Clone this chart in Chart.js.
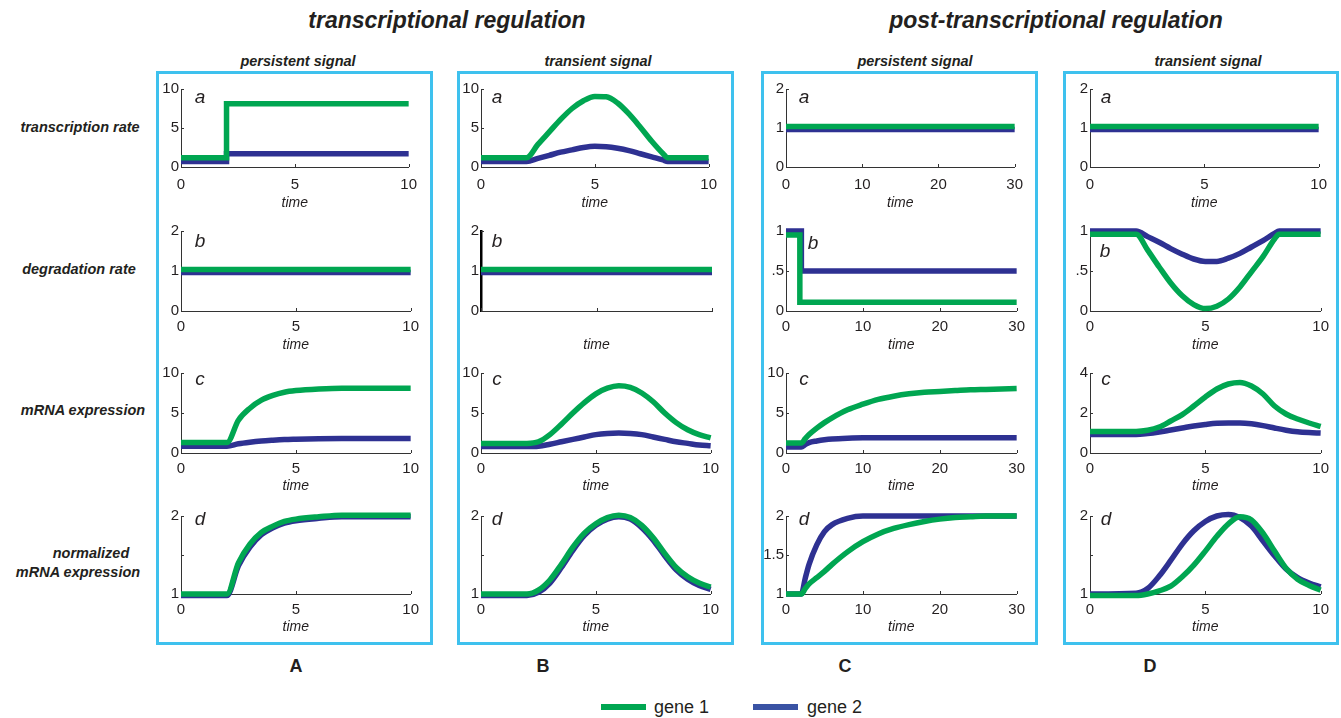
<!DOCTYPE html>
<html>
<head>
<meta charset="utf-8">
<script src="https://cdn.jsdelivr.net/npm/chart.js@4.4.1/dist/chart.umd.min.js"></script>
<style>
  body { margin: 0; background: #fff; font-family: 'Liberation Sans', Arial, sans-serif; color: #231f20; }
  #fig { position: relative; width: 1341px; height: 718px; overflow: hidden; }
  .txt { position: absolute; transform: translate(-50%, -50%); white-space: nowrap; }
  .head { font-weight: bold; font-style: italic; font-size: 23px; }
  .sub { font-weight: bold; font-style: italic; font-size: 14.5px; }
  .rowlab { font-weight: bold; font-style: italic; font-size: 14.5px; }
  .col { font-weight: bold; font-size: 18px; }
  .box { position: absolute; border: 3px solid #3ec1ee; box-sizing: border-box; }
  canvas.panel { position: absolute; }
  .key { position: absolute; height: 6px; width: 45px; }
  .keytxt { position: absolute; font-size: 18px; transform: translateY(-50%); white-space: nowrap; }
</style>
</head>
<body>
<div id="fig">
  <div class="txt head" style="left:447px; top:20px;">transcriptional regulation</div>
  <div class="txt head" style="left:1056px; top:20px;">post-transcriptional regulation</div>

  <div class="txt sub" style="left:298px; top:61px;">persistent signal</div>
  <div class="txt sub" style="left:598px; top:61px;">transient signal</div>
  <div class="txt sub" style="left:915px; top:61px;">persistent signal</div>
  <div class="txt sub" style="left:1208px; top:61px;">transient signal</div>

  <div class="txt rowlab" style="left:80px; top:127px;">transcription rate</div>
  <div class="txt rowlab" style="left:79px; top:269px;">degradation rate</div>
  <div class="txt rowlab" style="left:83px; top:410px;">mRNA expression</div>
  <div class="txt rowlab" style="left:91px; top:553px;">normalized</div>
  <div class="txt rowlab" style="left:78px; top:572px;">mRNA expression</div>

  <div class="box" style="left:156px; top:71px; width:277px; height:574px;"></div>
  <div class="box" style="left:457px; top:71px; width:277px; height:574px;"></div>
  <div class="box" style="left:761px; top:71px; width:277px; height:574px;"></div>
  <div class="box" style="left:1063px; top:71px; width:276px; height:574px;"></div>

  <div class="txt col" style="left:296px; top:666px;">A</div>
  <div class="txt col" style="left:543px; top:666px;">B</div>
  <div class="txt col" style="left:845px; top:666px;">C</div>
  <div class="txt col" style="left:1150px; top:666px;">D</div>

  <div class="key" style="left:601px; top:704px; background:#00a651;"></div>
  <div class="keytxt" style="left:654px; top:707px;">gene 1</div>
  <div class="key" style="left:753px; top:704px; background:#3a53a4;"></div>
  <div class="keytxt" style="left:807px; top:707px;">gene 2</div>
</div>

<script>
const GREEN = '#00a651';   // gene 1
const BLUE = '#2e3192';    // gene 2
const FONT = "'Liberation Sans', Arial, sans-serif";

// ---- time grids ----
const tStepA = [0, 2, 2, 10];
const tFlat10 = [0, 10];
const tFlat30 = [0, 30];
const tRiseA = [0, 2, 2.5, 3, 3.5, 4, 4.5, 5, 6, 7, 8, 10];
const tPulse = [0, 2, 2.5, 3, 3.5, 4, 4.5, 5, 5.5, 6, 6.5, 7, 7.5, 8, 8.2, 10];
const tHalf10 = [0, 2, 2.5, 3, 3.5, 4, 4.5, 5, 5.5, 6, 6.5, 7, 7.5, 8, 8.5, 9, 9.5, 10];
const tDropC1 = [0, 1.8, 1.8, 30];
const tDropC2 = [0, 2, 2, 30];
const tRiseC = [0, 2, 2.5, 3, 4, 5, 6, 8, 10, 12, 14, 16, 18, 20, 22, 24, 26, 28, 30];

// ---- A: transcriptional regulation, persistent signal ----
const A_a_gene1 = [1.2, 1.2, 8.1, 8.1];
const A_a_gene2 = [0.7, 0.7, 1.7, 1.7];
const A_b_gene1 = [1.04, 1.04];
const A_b_gene2 = [0.96, 0.96];
const A_c_gene1 = [1.3, 1.3, 4.1, 5.6, 6.6, 7.2, 7.6, 7.8, 8.0, 8.1, 8.1, 8.1];
const A_c_gene2 = [0.85, 0.85, 1.15, 1.35, 1.5, 1.6, 1.68, 1.72, 1.78, 1.8, 1.8, 1.8];
const A_d_gene1 = [1.0, 1.0, 1.4, 1.64, 1.79, 1.87, 1.93, 1.96, 1.99, 2.01, 2.01, 2.01];
const A_d_gene2 = [0.98, 0.98, 1.36, 1.6, 1.76, 1.85, 1.91, 1.94, 1.97, 1.99, 1.99, 1.99];

// ---- B: transcriptional regulation, transient signal ----
const B_a_gene1 = [1.2, 1.2, 2.9, 4.5, 6.1, 7.5, 8.5, 9.05, 9.0, 8.2, 6.8, 5.1, 3.3, 1.7, 1.2, 1.2];
const B_a_gene2 = [0.7, 0.7, 1.1, 1.5, 1.9, 2.2, 2.5, 2.65, 2.6, 2.4, 2.1, 1.7, 1.3, 0.9, 0.7, 0.7];
const B_b_gene1 = [1.04, 1.04];
const B_b_gene2 = [0.96, 0.96];
const B_c_gene1 = [1.2, 1.2, 1.4, 2.3, 3.6, 5.0, 6.3, 7.4, 8.1, 8.4, 8.2, 7.5, 6.4, 5.0, 3.8, 2.9, 2.3, 1.9];
const B_c_gene2 = [0.8, 0.8, 0.85, 1.1, 1.4, 1.7, 2.0, 2.3, 2.45, 2.5, 2.45, 2.3, 2.0, 1.7, 1.4, 1.2, 1.0, 0.9];
const B_d_gene1 = [1.0, 1.0, 1.05, 1.18, 1.38, 1.6, 1.78, 1.9, 1.98, 2.01, 1.98, 1.88, 1.72, 1.52, 1.34, 1.22, 1.14, 1.09];
const B_d_gene2 = [0.98, 0.98, 1.02, 1.14, 1.34, 1.56, 1.75, 1.88, 1.96, 1.99, 1.96, 1.85, 1.69, 1.49, 1.31, 1.19, 1.11, 1.06];

// ---- C: post-transcriptional regulation, persistent signal ----
const C_a_gene1 = [1.04, 1.04];
const C_a_gene2 = [0.96, 0.96];
const C_b_gene1 = [0.95, 0.95, 0.11, 0.11];
const C_b_gene2 = [1.0, 1.0, 0.5, 0.5];
const C_c_gene1 = [1.25, 1.25, 1.8, 2.3, 3.1, 3.8, 4.4, 5.4, 6.1, 6.7, 7.1, 7.4, 7.6, 7.7, 7.8, 7.9, 7.95, 8.0, 8.05];
const C_c_gene2 = [0.75, 0.75, 1.05, 1.3, 1.5, 1.65, 1.75, 1.85, 1.9, 1.9, 1.9, 1.9, 1.9, 1.9, 1.9, 1.9, 1.9, 1.9, 1.9];
const C_d_gene1 = [1.0, 1.0, 1.07, 1.13, 1.21, 1.29, 1.38, 1.54, 1.67, 1.77, 1.84, 1.89, 1.93, 1.96, 1.98, 1.99, 2.0, 2.0, 2.0];
const C_d_gene2 = [1.0, 1.0, 1.2, 1.38, 1.63, 1.8, 1.89, 1.97, 2.0, 2.0, 2.0, 2.0, 2.0, 2.0, 2.0, 2.0, 2.0, 2.0, 2.0];

// ---- D: post-transcriptional regulation, transient signal ----
const D_a_gene1 = [1.04, 1.04];
const D_a_gene2 = [0.96, 0.96];
const D_b_gene1 = [0.96, 0.96, 0.76, 0.55, 0.35, 0.19, 0.08, 0.03, 0.06, 0.15, 0.3, 0.49, 0.68, 0.9, 0.96, 0.96];
const D_b_gene2 = [1.0, 1.0, 0.93, 0.86, 0.78, 0.71, 0.65, 0.62, 0.62, 0.66, 0.72, 0.8, 0.88, 0.97, 1.0, 1.0];
const D_c_gene1 = [1.08, 1.08, 1.14, 1.3, 1.6, 1.92, 2.35, 2.8, 3.2, 3.45, 3.53, 3.35, 2.95, 2.35, 1.95, 1.7, 1.5, 1.33];
const D_c_gene2 = [0.92, 0.92, 0.97, 1.05, 1.15, 1.25, 1.35, 1.43, 1.49, 1.5, 1.5, 1.46, 1.37, 1.25, 1.14, 1.06, 1.02, 1.0];
const D_d_gene1 = [0.98, 0.98, 1.0, 1.04, 1.1, 1.22, 1.37, 1.55, 1.74, 1.9, 1.99, 1.95, 1.78, 1.55, 1.33, 1.19, 1.11, 1.05];
const D_d_gene2 = [1.0, 1.01, 1.07, 1.23, 1.43, 1.64, 1.81, 1.93, 2.0, 2.02, 1.98, 1.87, 1.68, 1.49, 1.32, 1.21, 1.14, 1.09];

// ---- axis ranges ----
const xMaxByCol = [10, 10, 30, 10];
const xStepByCol = [5, 5, 10, 5];
// [min, max, step] per column for each row
const yRangeRowA = [[0, 10, 5], [0, 10, 5], [0, 2, 1], [0, 2, 1]];
const yRangeRowB = [[0, 2, 1], [0, 2, 1], [0, 1, 0.5], [0, 1, 0.5]];
const yRangeRowC = [[0, 10, 5], [0, 10, 5], [0, 10, 5], [0, 4, 2]];
const yRangeRowD = [[1, 2, 0.5], [1, 2, 0.5], [1, 2, 0.5], [1, 2, 0.5]];
const yRanges = [yRangeRowA, yRangeRowB, yRangeRowC, yRangeRowD];

// panel list: column, row, and the two series with their time grids
const panels = [
  { c: 0, r: 0, t1: tStepA, g1: A_a_gene1, t2: tStepA, g2: A_a_gene2, smooth: false },
  { c: 0, r: 1, t1: tFlat10, g1: A_b_gene1, t2: tFlat10, g2: A_b_gene2, smooth: false },
  { c: 0, r: 2, t1: tRiseA, g1: A_c_gene1, t2: tRiseA, g2: A_c_gene2, smooth: true },
  { c: 0, r: 3, t1: tRiseA, g1: A_d_gene1, t2: tRiseA, g2: A_d_gene2, smooth: true },
  { c: 1, r: 0, t1: tPulse, g1: B_a_gene1, t2: tPulse, g2: B_a_gene2, smooth: true },
  { c: 1, r: 1, t1: tFlat10, g1: B_b_gene1, t2: tFlat10, g2: B_b_gene2, smooth: false },
  { c: 1, r: 2, t1: tHalf10, g1: B_c_gene1, t2: tHalf10, g2: B_c_gene2, smooth: true },
  { c: 1, r: 3, t1: tHalf10, g1: B_d_gene1, t2: tHalf10, g2: B_d_gene2, smooth: true },
  { c: 2, r: 0, t1: tFlat30, g1: C_a_gene1, t2: tFlat30, g2: C_a_gene2, smooth: false },
  { c: 2, r: 1, t1: tDropC1, g1: C_b_gene1, t2: tDropC2, g2: C_b_gene2, smooth: false },
  { c: 2, r: 2, t1: tRiseC, g1: C_c_gene1, t2: tRiseC, g2: C_c_gene2, smooth: true },
  { c: 2, r: 3, t1: tRiseC, g1: C_d_gene1, t2: tRiseC, g2: C_d_gene2, smooth: true },
  { c: 3, r: 0, t1: tFlat10, g1: D_a_gene1, t2: tFlat10, g2: D_a_gene2, smooth: false },
  { c: 3, r: 1, t1: tPulse, g1: D_b_gene1, t2: tPulse, g2: D_b_gene2, smooth: true },
  { c: 3, r: 2, t1: tHalf10, g1: D_c_gene1, t2: tHalf10, g2: D_c_gene2, smooth: true },
  { c: 3, r: 3, t1: tHalf10, g1: D_d_gene1, t2: tHalf10, g2: D_d_gene2, smooth: true }
];

// ---- layout of the plot areas ----
const plotLeft = [181, 481, 786, 1090];
const plotWidth = [231, 231, 232, 232];
const plotTop = [88, 230, 372, 515];
const plotHeight = [79, 81, 81, 79];
const PAD_LEFT = 40, PAD_TOP = 10, PAD_RIGHT = 14, PAD_BOTTOM = 45;
const timeOffset = [36, 34, 33, 33];        // centre of "time" below the axis
const tickPadding = [9, 7, 7, 7];
const letterDx = [19, 16, 18, 16];
const letterDy = [14, 16, 12, 9];
const letters = ['a', 'b', 'c', 'd'];

// small inward tick marks plus the panel letter
const panelDecor = {
  id: 'panelDecor',
  beforeDatasetsDraw(chart, args, opts) {
    const { ctx, chartArea: a, scales: { x, y } } = chart;
    ctx.save();
    ctx.strokeStyle = '#333';
    ctx.lineWidth = 1;
    ctx.beginPath();
    x.ticks.forEach(t => {
      const px = Math.round(x.getPixelForValue(t.value)) + 0.5;
      ctx.moveTo(px, a.bottom);
      ctx.lineTo(px, a.bottom - 3);
    });
    y.ticks.forEach(t => {
      const py = Math.round(y.getPixelForValue(t.value)) + 0.5;
      ctx.moveTo(a.left, py);
      ctx.lineTo(a.left + 3, py);
    });
    ctx.stroke();
    ctx.fillStyle = '#231f20';
    ctx.font = 'italic 19px ' + FONT;
    ctx.textAlign = 'center';
    ctx.textBaseline = 'alphabetic';
    ctx.fillText(opts.text, a.left + opts.dx, a.top + opts.dy);
    ctx.restore();
  }
};

function toPoints(t, v) {
  return t.map((tt, i) => ({ x: tt, y: v[i] }));
}

function makePanel(p) {
  const fig = document.getElementById('fig');
  const canvas = document.createElement('canvas');
  canvas.className = 'panel';
  const w = plotWidth[p.c] + PAD_LEFT + PAD_RIGHT;
  const h = plotHeight[p.r] + PAD_TOP + PAD_BOTTOM;
  canvas.width = w;
  canvas.height = h;
  canvas.style.left = (plotLeft[p.c] - PAD_LEFT) + 'px';
  canvas.style.top = (plotTop[p.r] - PAD_TOP) + 'px';
  fig.appendChild(canvas);

  const [yMin, yMax, yStep] = yRanges[p.r][p.c];
  const isDegPost = p.r === 1 && p.c >= 2;
  const isNorm = p.r === 3;
  const hideTimeTicks = p.c === 1 && p.r === 1;

  let dx = letterDx[p.c], dy = letterDy[p.r];
  if (p.c === 2 && p.r === 1) { dx = 27; dy = 18; }
  if (p.c === 3 && p.r === 1) { dx = 15; dy = 26; }

  const lineStyle = {
    borderWidth: 5.5,
    borderCapStyle: 'butt',
    pointRadius: 0,
    clip: false,
    cubicInterpolationMode: p.smooth ? 'monotone' : 'default',
    tension: 0
  };

  return new Chart(canvas.getContext('2d'), {
    type: 'line',
    data: {
      datasets: [
        Object.assign({ label: 'gene 1', data: toPoints(p.t1, p.g1), borderColor: GREEN }, lineStyle),
        Object.assign({ label: 'gene 2', data: toPoints(p.t2, p.g2), borderColor: BLUE }, lineStyle)
      ]
    },
    options: {
      responsive: false,
      animation: false,
      events: [],
      layout: { padding: { top: PAD_TOP, right: PAD_RIGHT, left: 0, bottom: 0 } },
      plugins: {
        legend: { display: false },
        tooltip: { enabled: false },
        panelDecor: { text: letters[p.r], dx: dx, dy: dy }
      },
      scales: {
        x: {
          type: 'linear',
          min: 0,
          max: xMaxByCol[p.c],
          afterFit: s => { s.height = PAD_BOTTOM; },
          grid: { display: false, drawTicks: false },
          border: { display: true, color: '#333', width: 1 },
          ticks: {
            display: !hideTimeTicks,
            stepSize: xStepByCol[p.c],
            maxRotation: 0,
            padding: tickPadding[p.r],
            color: '#231f20',
            font: { family: FONT, size: 15 }
          },
          title: {
            display: true,
            text: 'time',
            color: '#231f20',
            font: { family: FONT, size: 14, style: 'italic' },
            padding: { top: 0, bottom: PAD_BOTTOM - timeOffset[p.r] - 8.4 }
          }
        },
        y: {
          min: yMin,
          max: yMax,
          afterFit: s => { s.width = PAD_LEFT; },
          grid: { display: false, drawTicks: false },
          border: hideTimeTicks
            ? { display: true, color: '#000', width: 2.5 }
            : { display: true, color: '#333', width: 1 },
          ticks: {
            stepSize: yStep,
            padding: 2,
            color: '#231f20',
            font: { family: FONT, size: 15 },
            callback: v => {
              if (isDegPost && v === 0.5) return '.5';
              if (isNorm && v === 1.5 && p.c !== 2) return '';
              return String(v);
            }
          }
        }
      }
    },
    plugins: [panelDecor]
  });
}

panels.forEach(makePanel);
</script>
</body>
</html>
